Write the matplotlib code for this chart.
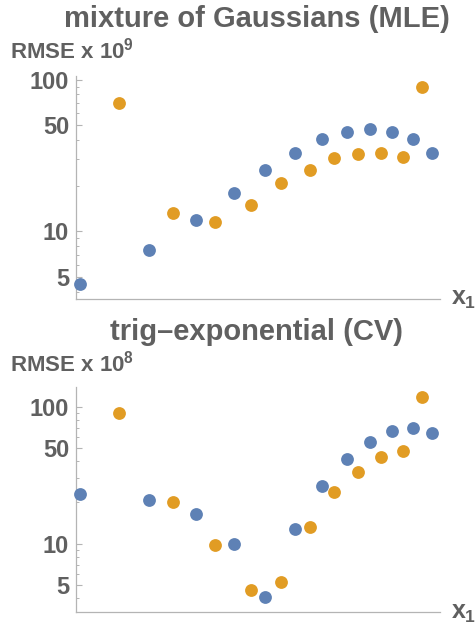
import matplotlib
matplotlib.use("Agg")
import matplotlib.pyplot as plt
from matplotlib.ticker import FixedLocator, NullFormatter, FixedFormatter

plt.rcParams['font.family'] = ['Liberation Sans', 'DejaVu Sans']
plt.rcParams['font.weight'] = 'bold'
plt.rcParams['mathtext.fontset'] = 'custom'
plt.rcParams['mathtext.rm'] = 'Liberation Sans:bold'
plt.rcParams['mathtext.it'] = 'Liberation Sans:bold'
plt.rcParams['mathtext.bf'] = 'Liberation Sans:bold'

# x1 positions (no tick labels in the original, arbitrary units 0..100)
x_blue = [1.2, 20.1, 33.0, 43.4, 52.0, 60.2, 67.6, 74.4, 80.7, 86.8, 92.5, 97.9]
x_orange = [11.9, 26.7, 38.3, 48.0, 56.4, 64.2, 70.9, 77.6, 83.7, 89.8, 95.1]

# mixture of Gaussians (MLE), RMSE x 1e9
mle_blue = [4.46, 7.5, 11.9, 18.0, 25.5, 33.1, 40.8, 45.5, 47.1, 45.5, 40.8, 33.1]
mle_orange = [69.8, 13.1, 11.5, 14.9, 20.8, 25.5, 30.3, 32.6, 33.1, 30.8, 90.3]

# trig-exponential (CV), RMSE x 1e8
cv_blue = [23.0, 20.8, 16.5, 10.0, 4.06, 12.7, 26.2, 41.3, 55.0, 66.2, 70.5, 64.8]
cv_orange = [90.3, 20.0, 9.7, 4.6, 5.24, 13.3, 23.7, 33.7, 43.0, 47.6, 117.5]

major_ticks = [5, 10, 50, 100]
major_labels = ['5', '10', '50', '100']
minor_ticks = [4, 6, 7, 8, 9, 20, 30, 40, 60, 70, 80, 90]

BLUE = '#5E81B5'
ORANGE = '#E19C24'
TEXT = '#606060'
AXIS = '#b4b4b4'

fig = plt.figure(figsize=(4.75, 6.3), dpi=100)


def panel(rect, yb, yo, ylim, title, exponent, title_y, label_y, x1_y):
    ax = fig.add_axes(rect)
    ax.scatter(x_blue, yb, s=85, color=BLUE, zorder=3, clip_on=False, linewidths=0)
    ax.scatter(x_orange, yo, s=85, color=ORANGE, zorder=3, clip_on=False, linewidths=0)
    ax.set_yscale('log')
    ax.set_xlim(0, 100)
    ax.set_ylim(*ylim)
    ax.yaxis.set_major_locator(FixedLocator(major_ticks))
    ax.yaxis.set_major_formatter(FixedFormatter(major_labels))
    ax.yaxis.set_minor_locator(FixedLocator(minor_ticks))
    ax.yaxis.set_minor_formatter(NullFormatter())
    ax.set_xticks([])
    for s in ['top', 'right']:
        ax.spines[s].set_visible(False)
    for s in ['left', 'bottom']:
        ax.spines[s].set_color(AXIS)
        ax.spines[s].set_linewidth(0.9)
    ax.tick_params(axis='y', which='major', direction='in', length=4, width=0.8,
                   color=AXIS, labelsize=17, labelcolor=TEXT, pad=5)
    ax.tick_params(axis='y', which='minor', direction='in', length=2.2, width=0.7,
                   color=AXIS)
    for lab in ax.get_yticklabels():
        lab.set_fontweight('bold')
    fig.text(0.54, title_y, title, ha='center', va='baseline', fontsize=21,
             fontweight='bold', color=TEXT)
    fig.text(0.02, label_y, 'RMSE x $10^{%d}$' % exponent, ha='left', va='baseline',
             fontsize=16, fontweight='bold', color=TEXT)
    fig.text(0.95, x1_y, '$x_1$', ha='left', va='baseline', fontsize=18,
             fontweight='bold', color=TEXT)
    return ax


panel([0.16, 0.5254, 0.766, 0.354], mle_blue, mle_orange, (3.57, 106),
      'mixture of Gaussians (MLE)', 9, 0.957, 0.907, 0.516)
panel([0.16, 0.029, 0.766, 0.356], cv_blue, cv_orange, (3.17, 139),
      'trig\u2013exponential (CV)', 8, 0.460, 0.41, 0.0185)

fig.savefig('out.png', dpi=100)
